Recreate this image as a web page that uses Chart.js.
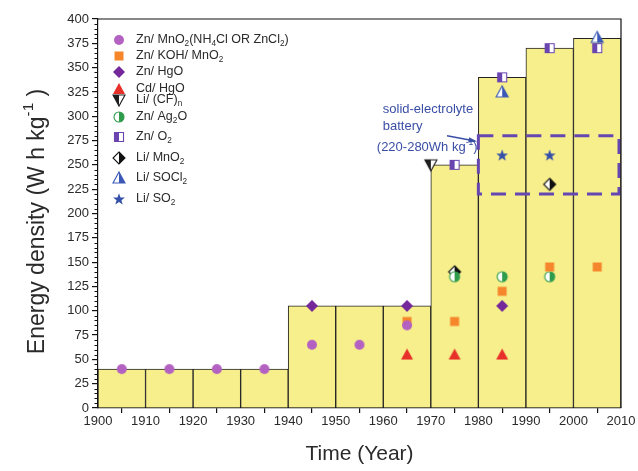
<!DOCTYPE html>
<html>
<head>
<meta charset="utf-8">
<script src="https://cdn.jsdelivr.net/npm/chart.js@4.4.1/dist/chart.umd.min.js"></script>
<style>
  html, body { margin: 0; padding: 0; background: #fff; }
</style>
</head>
<body>
<canvas id="energyChart" width="638" height="471"></canvas>
<script>
// best energy density per decade (bar centred mid-decade)
const decades = [1905, 1915, 1925, 1935, 1945, 1955, 1965, 1975, 1985, 1995, 2005];
const bestDensity = [40, 40, 40, 40, 105, 105, 105, 250, 340, 370, 380];

// battery chemistries: years and Wh/kg
const znMnO2Years = [1905, 1915, 1925, 1935, 1945, 1955, 1965];
const znMnO2 = [40, 40, 40, 40, 65, 65, 85];
const alkalineYears = [1965, 1975, 1985, 1995, 2005];
const alkaline = [89, 89, 120, 145, 145];
const znHgOYears = [1945, 1965, 1985];
const znHgO = [105, 105, 105];
const cdHgOYears = [1965, 1975, 1985];
const cdHgO = [55, 55, 55];
const liCFYears = [1970];
const liCF = [250];
const znAg2OYears = [1975, 1985, 1995];
const znAg2O = [135, 135, 135];
const znO2Years = [1975, 1985, 1995, 2005];
const znO2 = [250, 340, 370, 370];
const liMnO2Years = [1975, 1995];
const liMnO2 = [140, 230];
const liSOCl2Years = [1985, 2005];
const liSOCl2 = [325, 381];
const liSO2Years = [1985, 1995];
const liSO2 = [260, 260];

const seriesNames = [
  'Zn/ MnO_2(NH_4Cl OR ZnCl_2)', 'Zn/ KOH/ MnO_2', 'Zn/ HgO', 'Cd/ HgO', 'Li/ (CF)_n',
  'Zn/ Ag_2O', 'Zn/ O_2', 'Li/ MnO_2', 'Li/ SOCl_2', 'Li/ SO_2'
];

// solid-electrolyte target region
const solidYears = [1980, 2010];
const solidRange = [220, 280];
const noteLines = ['solid-electrolyte', 'battery', '(220-280Wh kg^{-1})'];

const FONT = '"Liberation Sans", Arial, sans-serif';
const TEXT = '#2a2a2a';
const NOTE_BLUE = '#3a4ea6';

// ---------- marker images ----------
function shapePath(ctx, shape, c) {
  ctx.beginPath();
  if (shape === 'circle') {
    ctx.arc(c, c, 5, 0, Math.PI * 2);
  } else if (shape === 'square') {
    ctx.rect(c - 4.5, c - 4.5, 9, 9);
  } else if (shape === 'diamond') {
    ctx.moveTo(c, c - 6); ctx.lineTo(c + 6, c); ctx.lineTo(c, c + 6); ctx.lineTo(c - 6, c);
    ctx.closePath();
  } else if (shape === 'triUp') {
    ctx.moveTo(c, c - 6); ctx.lineTo(c + 6, c + 5); ctx.lineTo(c - 6, c + 5);
    ctx.closePath();
  } else if (shape === 'triDown') {
    ctx.moveTo(c - 6, c - 5); ctx.lineTo(c + 6, c - 5); ctx.lineTo(c, c + 6);
    ctx.closePath();
  } else if (shape === 'star') {
    for (let i = 0; i < 10; i++) {
      const r = i % 2 ? 2.6 : 6.2;
      const a = -Math.PI / 2 + i * Math.PI / 5;
      const px = c + r * Math.cos(a), py = c + 0.5 + r * Math.sin(a);
      i ? ctx.lineTo(px, py) : ctx.moveTo(px, py);
    }
    ctx.closePath();
  }
}

function makeMarker(shape, color, half) {
  const cv = document.createElement('canvas');
  cv.width = 16; cv.height = 16;
  const ctx = cv.getContext('2d');
  const c = 8;
  if (!half) {
    shapePath(ctx, shape, c);
    ctx.fillStyle = color;
    ctx.fill();
    return cv;
  }
  shapePath(ctx, shape, c);
  ctx.fillStyle = '#fff';
  ctx.fill();
  ctx.save();
  ctx.beginPath();
  if (half === 'left') ctx.rect(0, 0, c, 16); else ctx.rect(c, 0, 8, 16);
  ctx.clip();
  shapePath(ctx, shape, c);
  ctx.fillStyle = color;
  ctx.fill();
  ctx.restore();
  shapePath(ctx, shape, c);
  ctx.strokeStyle = color;
  ctx.lineWidth = 1.1;
  ctx.stroke();
  return cv;
}

const markers = [
  makeMarker('circle', '#b462c2'),
  makeMarker('square', '#f5862c'),
  makeMarker('diamond', '#74289a'),
  makeMarker('triUp', '#e8302a'),
  makeMarker('triDown', '#1e1e1e', 'left'),
  makeMarker('circle', '#2f9c4c', 'right'),
  makeMarker('square', '#6a45b0', 'left'),
  makeMarker('diamond', '#111', 'right'),
  makeMarker('triUp', '#3b58b6', 'right'),
  makeMarker('star', '#3550a8')
];

const seriesYears = [znMnO2Years, alkalineYears, znHgOYears, cdHgOYears, liCFYears,
  znAg2OYears, znO2Years, liMnO2Years, liSOCl2Years, liSO2Years];
const seriesValues = [znMnO2, alkaline, znHgO, cdHgO, liCF, znAg2O, znO2, liMnO2, liSOCl2, liSO2];

const pointSets = seriesNames.map((name, i) => ({
  type: 'scatter',
  label: name,
  data: seriesYears[i].map((yr, j) => ({ x: yr, y: seriesValues[i][j] })),
  pointStyle: markers[i],
  pointRadius: 5,
  clip: false,
  order: 1
}));

// ---------- rich text (sub/superscripts) ----------
function parseRich(str) {
  const parts = [];
  let buf = '', i = 0;
  while (i < str.length) {
    const ch = str[i];
    if ((ch === '_' || ch === '^') && i + 1 < str.length) {
      if (buf) { parts.push({ t: buf, k: 0 }); buf = ''; }
      let seg;
      if (str[i + 1] === '{') {
        const j = str.indexOf('}', i);
        seg = str.slice(i + 2, j);
        i = j + 1;
      } else {
        seg = str[i + 1];
        i += 2;
      }
      parts.push({ t: seg, k: ch === '_' ? 1 : -1 });
    } else {
      buf += ch;
      i++;
    }
  }
  if (buf) parts.push({ t: buf, k: 0 });
  return parts;
}

function drawRich(ctx, str, x, y, size, color, align) {
  const parts = parseRich(str);
  const small = size * 0.66;
  let total = 0;
  parts.forEach(p => {
    ctx.font = (p.k ? small : size) + 'px ' + FONT;
    p.w = ctx.measureText(p.t).width;
    total += p.w;
  });
  let cx = align === 'center' ? x - total / 2 : x;
  ctx.fillStyle = color;
  ctx.textAlign = 'left';
  ctx.textBaseline = 'middle';
  parts.forEach(p => {
    ctx.font = (p.k ? small : size) + 'px ' + FONT;
    const dy = p.k === 1 ? size * 0.32 : (p.k === -1 ? -size * 0.38 : 0);
    ctx.fillText(p.t, cx, y + dy);
    cx += p.w;
  });
}

// ---------- extra drawing: frame, minor ticks, legend, note, y title ----------
const legendRows = [21, 37, 53, 70, 81, 98, 118, 139, 159, 180];

const decorations = {
  id: 'decorations',
  afterDatasetsDraw(chart) {
    const { ctx, chartArea: a, scales: { x, y } } = chart;
    ctx.save();

    // dashed solid-electrolyte box
    const bx0 = x.getPixelForValue(solidYears[0]), bx1 = x.getPixelForValue(solidYears[1]) - 2;
    const by0 = y.getPixelForValue(solidRange[1]), by1 = y.getPixelForValue(solidRange[0]);
    ctx.strokeStyle = '#6547b2';
    ctx.lineWidth = 3;
    ctx.setLineDash([15, 9]);
    ctx.strokeRect(bx0, by0, bx1 - bx0, by1 - by0);
    ctx.setLineDash([]);

    // arrow from the note to the box
    const ax0 = x.getPixelForValue(1973.4), ay0 = y.getPixelForValue(280);
    const ax1 = x.getPixelForValue(1979.3), ay1 = y.getPixelForValue(274.5);
    ctx.strokeStyle = NOTE_BLUE;
    ctx.fillStyle = NOTE_BLUE;
    ctx.lineWidth = 1.4;
    ctx.beginPath(); ctx.moveTo(ax0, ay0); ctx.lineTo(ax1, ay1); ctx.stroke();
    const ang = Math.atan2(ay1 - ay0, ax1 - ax0);
    ctx.beginPath();
    ctx.moveTo(ax1 + 2, ay1 + 2 * Math.tan(ang));
    ctx.lineTo(ax1 - 7 * Math.cos(ang - 0.4), ay1 - 7 * Math.sin(ang - 0.4));
    ctx.lineTo(ax1 - 7 * Math.cos(ang + 0.4), ay1 - 7 * Math.sin(ang + 0.4));
    ctx.closePath(); ctx.fill();

    // note text
    const nx = x.getPixelForValue(1959.9);
    drawRich(ctx, noteLines[0], nx, y.getPixelForValue(307), 13, NOTE_BLUE, 'left');
    drawRich(ctx, noteLines[1], nx, y.getPixelForValue(289.5), 13, NOTE_BLUE, 'left');
    drawRich(ctx, noteLines[2], nx - 6, y.getPixelForValue(268), 13, NOTE_BLUE, 'left');

    // legend
    seriesNames.forEach((name, i) => {
      const ly = a.top + legendRows[i];
      const mk = markers[i];
      ctx.drawImage(mk, a.left + 21 - mk.width / 2, ly - mk.height / 2);
      drawRich(ctx, name, a.left + 38, ly, 12.5, TEXT, 'left');
    });

    // frame top and right
    ctx.strokeStyle = '#111';
    ctx.lineWidth = 1.2;
    ctx.beginPath();
    ctx.moveTo(a.left, a.top); ctx.lineTo(a.right, a.top); ctx.lineTo(a.right, a.bottom);
    ctx.stroke();

    // minor ticks on the y axis
    ctx.lineWidth = 1;
    ctx.beginPath();
    for (let v = 5; v < 400; v += 5) {
      if (v % 25 === 0) continue;
      const py = Math.round(y.getPixelForValue(v)) + 0.5;
      ctx.moveTo(a.left - 3.5, py); ctx.lineTo(a.left, py);
    }
    ctx.stroke();

    // y axis title
    ctx.translate(38, (a.top + a.bottom) / 2 + 8);
    ctx.rotate(-Math.PI / 2);
    drawRich(ctx, 'Energy density (W h kg^{-1} )', 0, 0, 23, TEXT, 'center');
    ctx.restore();
  }
};

new Chart(document.getElementById('energyChart'), {
  type: 'bar',
  data: {
    datasets: [
      ...pointSets,
      {
        type: 'bar',
        label: 'best',
        data: decades.map((d, i) => ({ x: d, y: bestDensity[i] })),
        backgroundColor: '#f6ef8c',
        borderColor: '#222',
        borderWidth: 1,
        borderSkipped: 'bottom',
        barPercentage: 1,
        categoryPercentage: 1,
        order: 5
      }
    ]
  },
  options: {
    responsive: false,
    animation: false,
    layout: { padding: { left: 58, right: 17, top: 19, bottom: 0 } },
    plugins: { legend: { display: false }, tooltip: { enabled: false } },
    scales: {
      x: {
        type: 'linear',
        min: 1900,
        max: 2010,
        offset: false,
        afterFit: s => { s.height = 63; },
        ticks: {
          stepSize: 10,
          maxRotation: 0,
          padding: 1,
          color: TEXT,
          font: { family: FONT, size: 13 },
          callback: v => String(v)
        },
        grid: { drawOnChartArea: false, tickLength: 5, color: '#111', lineWidth: 1.2 },
        border: { color: '#111', width: 1.2 },
        title: {
          display: true,
          text: 'Time (Year)',
          color: TEXT,
          font: { family: FONT, size: 21 },
          padding: { top: 4, bottom: 4 }
        }
      },
      y: {
        min: 0,
        max: 400,
        afterFit: s => { s.width = 40; },
        ticks: {
          stepSize: 25,
          padding: 3,
          color: TEXT,
          font: { family: FONT, size: 13 }
        },
        grid: { drawOnChartArea: false, tickLength: 6, color: '#111', lineWidth: 1.2 },
        border: { color: '#111', width: 1.2 }
      }
    }
  },
  plugins: [decorations]
});
</script>
</body>
</html>
